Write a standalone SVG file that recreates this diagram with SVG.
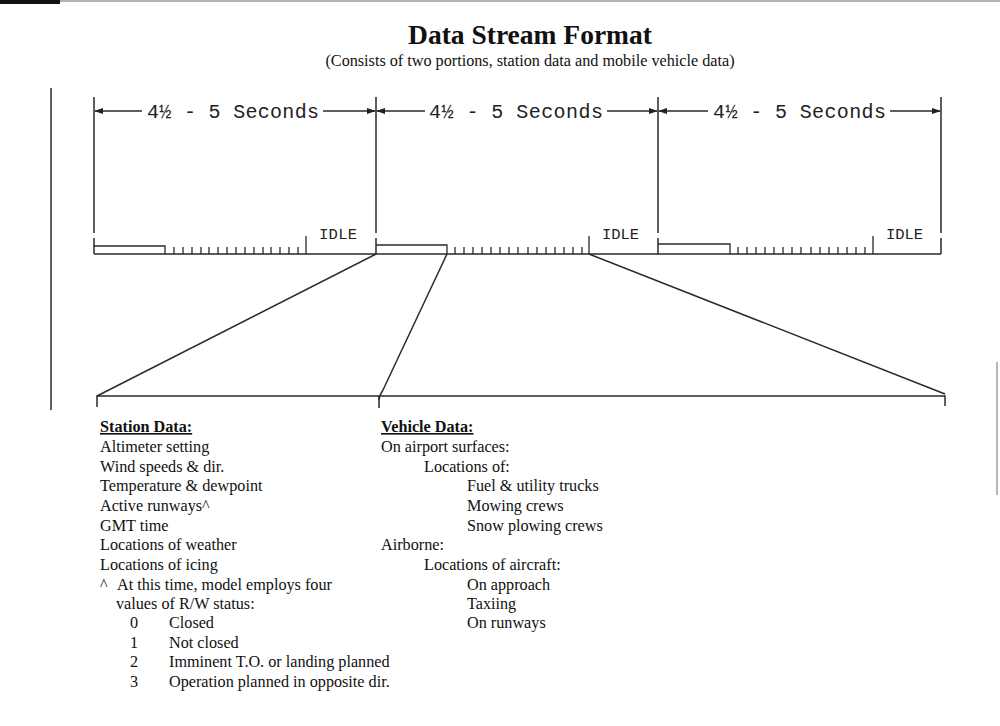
<svg xmlns="http://www.w3.org/2000/svg" width="1000" height="726" viewBox="0 0 1000 726">
<style>
.ln{stroke:#2a2a2a;stroke-width:1.5;fill:none}
.tk{stroke:#2a2a2a;stroke-width:1.3;fill:none}
.dim{font-family:"Liberation Mono",monospace;font-size:20px;fill:#222}
.idle{font-family:"Liberation Mono",monospace;font-size:15.5px;fill:#222}
.t{font-family:"Liberation Serif","Times New Roman",serif;font-size:16.2px;fill:#111}
.h{font-weight:bold;text-decoration:underline}
</style>
<defs>
<marker id="ar" markerWidth="9" markerHeight="6" refX="8" refY="3" orient="auto" markerUnits="userSpaceOnUse">
<path d="M0,0 L9,3 L0,6 z" fill="#222"/>
</marker>
</defs>
<rect width="1000" height="726" fill="#fff"/>
<rect x="0" y="0" width="60" height="4" fill="#111"/>
<line x1="60" y1="1" x2="1000" y2="1" stroke="#999" stroke-width="1.5"/>
<line x1="51" y1="88" x2="51" y2="410" class="ln"/>
<line x1="997" y1="362" x2="997" y2="495" stroke="#888" stroke-width="1.2"/>

<g id="title">
<text x="530" y="44" text-anchor="middle" font-family="Liberation Serif,serif" font-weight="bold" font-size="27.5" fill="#111">Data Stream Format</text>
<text x="530" y="66" text-anchor="middle" class="t" font-size="15.2">(Consists of two portions, station data and mobile vehicle data)</text>
</g>

<g id="segment1">
<path class="ln" d="M94 97V233M94 238V254M376 97V233M376 238V254M94 254H941"/>
<line x1="142" y1="111" x2="95" y2="111" class="ln" marker-end="url(#ar)"/>
<line x1="323" y1="111" x2="375" y2="111" class="ln" marker-end="url(#ar)"/>
<text x="147" y="118" class="dim" textLength="172">4½ - 5 Seconds</text>
<path class="tk" d="M94 246H165V254"/>
<path class="tk" d="M174 247V254M183 247V254M192 247V254M201 247V254M209 247V254M218 247V254M227 247V254M236 247V254M245 247V254M254 247V254M263 247V254M271 247V254M280 247V254M289 247V254M298 247V254M306 236V254"/>
<text x="319" y="239" class="idle" textLength="38">IDLE</text>
</g>

<g id="segment2">
<path class="ln" d="M658 97V233M658 238V254"/>
<line x1="425" y1="111" x2="377" y2="111" class="ln" marker-end="url(#ar)"/>
<line x1="607" y1="111" x2="657" y2="111" class="ln" marker-end="url(#ar)"/>
<text x="429" y="118" class="dim" textLength="174">4½ - 5 Seconds</text>
<path class="tk" d="M376 245H447V254"/>
<path class="tk" d="M455 247V254M464 247V254M473 247V254M482 247V254M491 247V254M500 247V254M509 247V254M518 247V254M528 247V254M537 247V254M546 247V254M555 247V254M564 247V254M573 247V254M582 247V254M589 236V254"/>
<text x="602" y="239" class="idle" textLength="37">IDLE</text>
</g>

<g id="segment3">
<path class="ln" d="M941 97V233M941 238V254"/>
<line x1="708" y1="111" x2="659" y2="111" class="ln" marker-end="url(#ar)"/>
<line x1="890" y1="111" x2="940" y2="111" class="ln" marker-end="url(#ar)"/>
<text x="713" y="118" class="dim" textLength="173">4½ - 5 Seconds</text>
<path class="tk" d="M658 244H730V254"/>
<path class="tk" d="M738 247V254M747 247V254M756 247V254M765 247V254M774 247V254M783 247V254M792 247V254M801 247V254M811 247V254M820 247V254M829 247V254M838 247V254M847 247V254M856 247V254M865 247V254M873 236V254"/>
<text x="886" y="239" class="idle" textLength="37">IDLE</text>
</g>

<g id="connectors">
<line x1="376" y1="254" x2="97" y2="396" class="ln"/>
<path class="ln" d="M447 254L383 390Q379 396 379 400"/>
<line x1="589" y1="254" x2="945" y2="394" class="ln"/>
<path class="ln" d="M97 407V396H945V406M379 396V408"/>
</g>

<g id="station-data">
<text class="t" x="100" y="432"><tspan class="h">Station Data:</tspan></text>
<text class="t" x="100" y="452">Altimeter setting</text>
<text class="t" x="100" y="472">Wind speeds &amp; dir.</text>
<text class="t" x="100" y="491">Temperature &amp; dewpoint</text>
<text class="t" x="100" y="511">Active runways^</text>
<text class="t" x="100" y="531">GMT time</text>
<text class="t" x="100" y="550">Locations of weather</text>
<text class="t" x="100" y="570">Locations of icing</text>
<text class="t" x="100" y="590">^</text><text class="t" x="117" y="590">At this time, model employs four</text>
<text class="t" x="116" y="609">values of R/W status:</text>
<text class="t" x="130" y="628">0</text><text class="t" x="169" y="628">Closed</text>
<text class="t" x="130" y="648">1</text><text class="t" x="169" y="648">Not closed</text>
<text class="t" x="130" y="667">2</text><text class="t" x="169" y="667">Imminent T.O. or landing planned</text>
<text class="t" x="130" y="687">3</text><text class="t" x="169" y="687">Operation planned in opposite dir.</text>
</g>

<g id="vehicle-data">
<text class="t" x="381" y="432"><tspan class="h">Vehicle Data:</tspan></text>
<text class="t" x="381" y="452">On airport surfaces:</text>
<text class="t" x="424" y="472">Locations of:</text>
<text class="t" x="467" y="491">Fuel &amp; utility trucks</text>
<text class="t" x="467" y="511">Mowing crews</text>
<text class="t" x="467" y="531">Snow plowing crews</text>
<text class="t" x="381" y="550">Airborne:</text>
<text class="t" x="424" y="570">Locations of aircraft:</text>
<text class="t" x="467" y="590">On approach</text>
<text class="t" x="467" y="609">Taxiing</text>
<text class="t" x="467" y="628">On runways</text>
</g>
</svg>
